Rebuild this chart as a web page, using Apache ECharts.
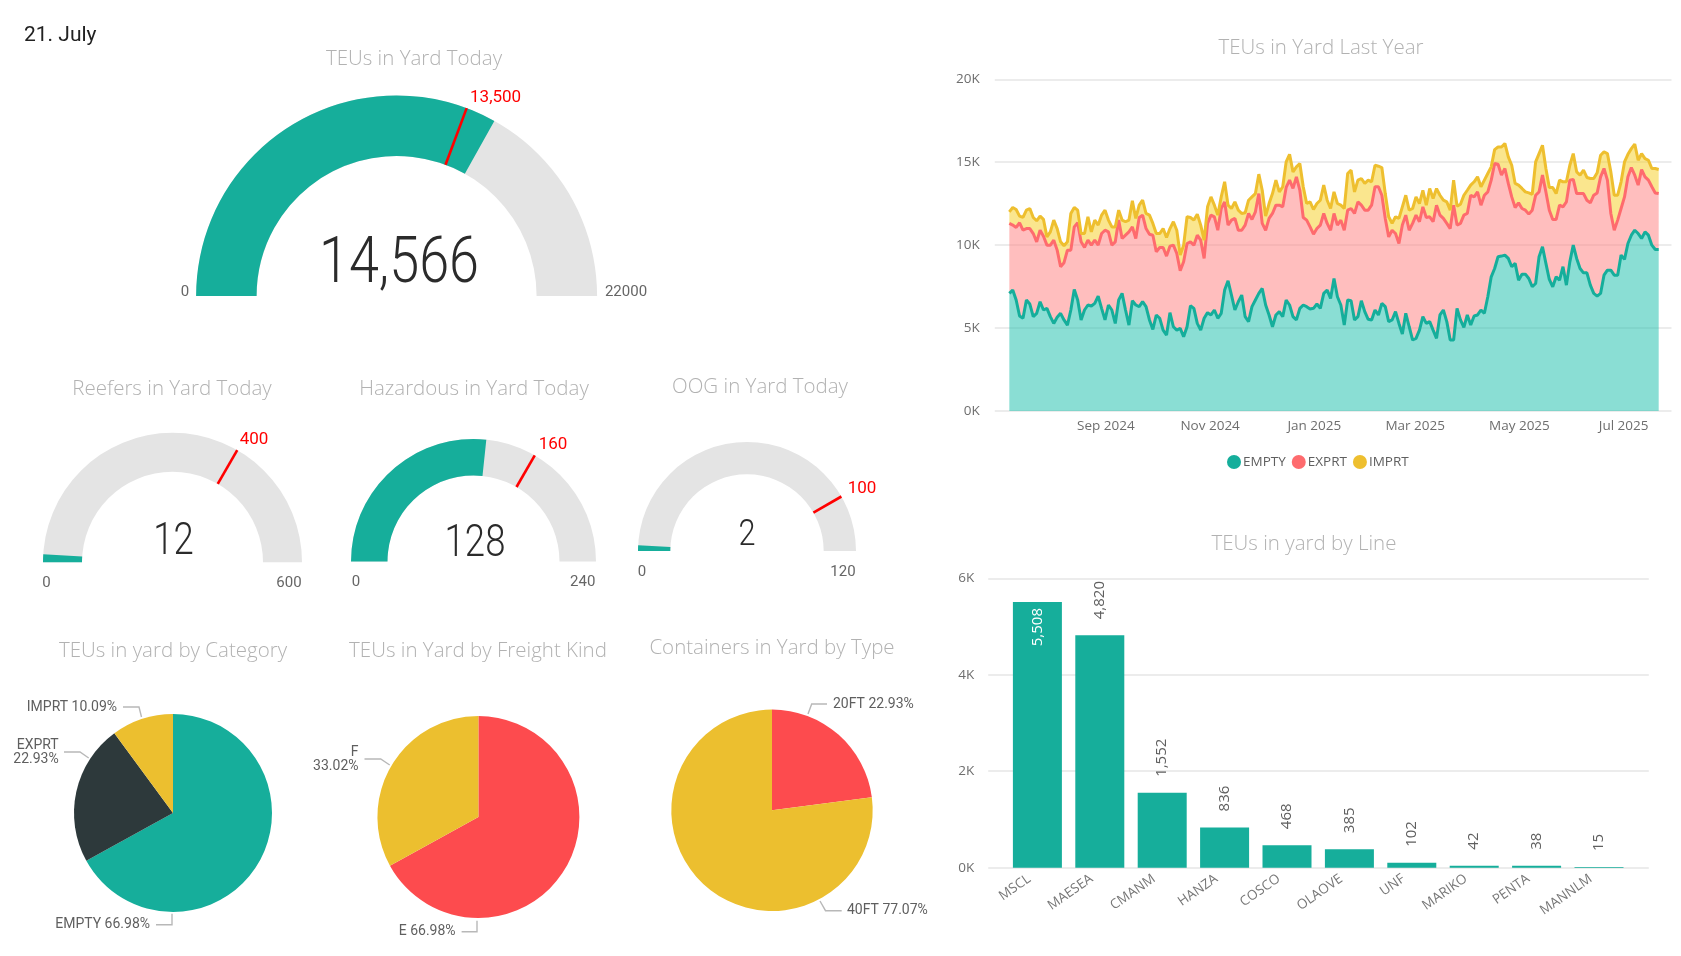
<!DOCTYPE html>
<html><head><meta charset="utf-8">
<style>html,body{margin:0;padding:0;background:#fff}#c{width:1681px;height:956px}</style>
<script src="https://cdn.jsdelivr.net/npm/echarts@6/dist/echarts.min.js"></script>
</head><body><div id="c"></div>
<script>
// ---------- data ----------
const dateHeading = '21. July';
const gaugeTitles = ['TEUs in Yard Today', 'Reefers in Yard Today', 'Hazardous in Yard Today', 'OOG in Yard Today'];
const gaugeValues = [14566, 12, 128, 2];
const gaugeTargets = [13500, 400, 160, 100];
const gaugeMaxima = [22000, 600, 240, 120];

const pieCategoryNames = ['EMPTY', 'EXPRT', 'IMPRT'];
const pieCategoryValues = [66.98, 22.93, 10.09];
const pieFreightNames = ['E', 'F'];
const pieFreightValues = [66.98, 33.02];
const pieTypeNames = ['20FT', '40FT'];
const pieTypeValues = [22.93, 77.07];

const lineNames = ['MSCL', 'MAESEA', 'CMANM', 'HANZA', 'COSCO', 'OLAOVE', 'UNF', 'MARIKO', 'PENTA', 'MANNLM'];
const lineTeus = [5508, 4820, 1552, 836, 468, 385, 102, 42, 38, 15];

const firstDay = '2024-07-06';   // one reading every second day to 21 July 2025
const stepDays = 2;
const monthTicks = ['2024-09-01', '2024-11-01', '2025-01-01', '2025-03-01', '2025-05-01', '2025-07-01'];
const emptyTeus = [
7090,7290,6690,5730,5590,6690,6450,5690,5890,6590,6090,6190,5690,5280,5650,5890,5490,5180,6090,7330,
6690,5490,6090,6390,6330,6490,6930,6190,5490,6390,6090,5280,6690,7090,6090,5180,6650,6390,6290,6590,
6290,5490,4920,5790,5590,4880,4580,5930,5080,
4880,4980,4480,5080,6350,6190,5280,4880,5590,5930,5790,6090,5590,5890,7290,7850,6990,6090,6590,6990,
5690,5390,6290,6690,7090,7390,6390,5790,5080,5790,5990,5690,6690,6390,5690,5490,6190,6390,6290,6150,
6190,6450,6190,7090,7290,6790,7990,6890,
6390,5180,6690,6650,5490,5690,6650,5990,5530,5490,6090,5790,6490,6290,5390,5490,5990,5280,4640,5890,
5080,4280,4380,4880,5690,5280,5390,4880,4380,5790,6090,5390,4280,4280,6190,5490,5040,5790,5180,5730,
5790,6090,5890,6890,8090,8590,9300,9340,
9400,9200,8700,8900,7890,8250,8250,7990,7490,7690,9300,9900,8900,7930,7490,8090,7890,8700,7590,8990,
10000,9200,8590,8330,8330,7590,7090,6930,7090,8190,8490,8490,8190,8190,9400,9140,10100,10600,10900,10700,
10400,10800,10600,10000,9740,9740];
const emptyPlusExport = [
11310,11210,11070,11350,10900,11000,11000,10700,10200,10900,10540,10000,10000,10300,9700,8700,8940,9700,9700,11100,
11350,10200,9860,10300,10000,10300,10000,10700,10900,10800,10000,10200,11510,10400,10600,10800,11100,10400,11670,11810,
11000,10660,10600,9600,9860,9860,9340,9940,10000,
9500,8460,9000,10100,10200,10000,10600,10300,9200,11310,11810,11710,10900,12210,12610,11210,11510,11610,10900,10900,
11210,11910,11550,12010,13110,11310,10900,11610,11910,12410,12410,12310,13480,13920,13420,14120,13310,11670,11510,11100,
10660,11000,11210,11910,11310,10900,11910,11210,
11510,10900,12110,12210,11910,12610,12410,12110,12110,12410,13520,13520,13010,11610,10500,10900,10700,10100,11210,11810,
10900,11310,11810,11410,12310,11670,11710,11410,12410,11810,11610,11310,11000,12410,11210,11310,11810,11910,13010,12910,
13210,12410,13010,13210,13920,14920,14880,14220,
14620,13720,12910,12270,12550,12210,12110,11870,12110,13010,13210,14220,13210,12110,11550,11550,12410,12310,12610,13920,
13960,13110,13110,13110,12710,12550,13010,13150,14120,14620,13920,11910,10900,11510,12210,12910,14120,14680,14220,13620,
14560,14120,13920,13520,13150,13110];
const emptyPlusExportPlusImport = [
12010,12270,12150,11750,11670,12110,12210,11670,11470,11750,11550,10500,10800,11510,11000,10200,9960,10200,11910,12270,
12110,10700,10700,11710,10800,11510,11210,11810,12110,11510,11100,11100,12110,11510,11410,11510,12670,11610,12410,12710,
11910,11810,11310,10700,10700,11000,10460,11000,11410,
10900,9400,10000,11710,11670,11510,11870,11210,10300,12310,12910,12410,11810,12910,13820,12410,12210,12610,12110,11910,
11950,12710,12910,13110,14280,13310,11750,12510,13110,13920,13210,13520,15020,15480,14420,14720,14920,13520,12510,12610,
12150,12510,12710,13620,12710,12210,13210,12510,
12410,12210,14320,14520,13210,13920,14020,13720,13920,13820,14820,14760,14680,13110,11710,11310,11710,11610,12310,13010,
12110,12210,12910,12510,13310,12410,13410,12810,13410,13010,12710,12610,12110,13920,12350,12470,13010,13310,13620,13820,
14120,13520,13920,14320,14720,15760,15920,15920,
16130,15320,14820,13720,13620,13420,13210,13150,13070,15020,15520,16020,14620,13480,13480,13110,13920,13820,13820,14820,
15520,14420,14220,14520,14080,14020,14020,14360,15420,15620,15520,14420,13010,13010,13820,15020,15480,15820,16090,15120,
15520,15220,15120,14620,14620,14560];

// ---------- style and layout ----------
const TEAL = '#16AE9B', GOLD = '#ECBF2F', RED = '#FD4B4E', DARK = '#2D393B', TRACK = '#E4E4E4';
const TITLE_COLOR = '#B2B2B2', AXIS_COLOR = '#6E6E6E', GRID_COLOR = '#E6E6E6';
const UI = '"Open Sans", "Noto Sans", sans-serif';
const DIN = 'Roboto, sans-serif';

const fmt = n => n.toLocaleString('en-US');
const titleAt = (text, x, y) => ({ text, left: x, top: y + 1, textAlign: 'center', textVerticalAlign: 'middle', padding: 0,
  textStyle: { fontFamily: UI, fontWeight: 300, fontSize: 20.5, color: TITLE_COLOR } });

const gaugeLayouts = [
  { cx: 396.6, cy: 296, R: 200.5, r: 140, valueAt: [399, 266], valueSize: 65, title: [414, 58], targetAt: [99, -198],
    minAt: [185, 292], maxAt: [626, 292] },
  { cx: 172.5, cy: 562.3, R: 129.5, r: 90.5, valueAt: [173.4, 543], valueSize: 44, title: [172, 388], targetAt: [81.5, -122.5],
    minAt: [46.5, 583.5], maxAt: [289, 583.5] },
  { cx: 473.5, cy: 561.5, R: 122.5, r: 86, valueAt: [475, 545], valueSize: 44, title: [474, 388], targetAt: [79.5, -117],
    minAt: [356, 582.5], maxAt: [582.7, 582.5] },
  { cx: 747, cy: 551, R: 109, r: 76.7, valueAt: [747, 536], valueSize: 37, title: [760, 386], targetAt: [115, -62.5],
    minAt: [642, 572], maxAt: [843, 572] }
];

const gaugeSeries = [];
const gaugeLabels = [];
gaugeLayouts.forEach((g, i) => {
  const base = {
    type: 'gauge', center: [g.cx, g.cy], radius: g.R, startAngle: 180, endAngle: 0,
    min: 0, max: gaugeMaxima[i], silent: true,
    axisTick: { show: false }, splitLine: { show: false }, axisLabel: { show: false }, anchor: { show: false }
  };
  gaugeSeries.push({ ...base,
    axisLine: { lineStyle: { width: g.R - g.r, color: [[1, TRACK]] } },
    progress: { show: true, width: g.R - g.r, itemStyle: { color: TEAL } },
    pointer: { show: false }, title: { show: false }, detail: { show: false },
    data: [{ value: gaugeValues[i] }]
  });
  gaugeSeries.push({ ...base, z: 5,
    axisLine: { show: false }, progress: { show: false },
    pointer: { show: true, icon: 'rect', length: g.R - g.r, width: 2.6, offsetCenter: [0, -g.r], itemStyle: { color: '#FF0000' } },
    detail: { show: false },
    title: { show: true, offsetCenter: g.targetAt, color: '#FF0000', fontFamily: DIN, fontSize: 17 },
    data: [{ value: gaugeTargets[i], name: fmt(gaugeTargets[i]) }]
  });
  [[0, g.minAt], [gaugeMaxima[i], g.maxAt]].forEach(([v, at]) => gaugeLabels.push({
    type: 'text', x: at[0], y: at[1], silent: true,
    style: { text: String(v), fill: '#666', fontFamily: DIN, fontSize: 15, align: 'center', verticalAlign: 'middle' }
  }));
  gaugeLabels.push({
    type: 'text', x: g.valueAt[0], y: g.valueAt[1], scaleX: 0.83, silent: true, z: 10,
    style: { text: fmt(gaugeValues[i]), fill: '#2B2B2B', fontFamily: DIN, fontWeight: 300, fontSize: g.valueSize,
      align: 'center', verticalAlign: 'middle' }
  });
});

const pieLayouts = [
  { center: [173, 813], R: 99, title: [173, 650], names: pieCategoryNames, values: pieCategoryValues, colors: [TEAL, DARK, GOLD],
    labels: [
      { x: 150, y: 924, align: 'right', line: [[156, 924.7], [172, 924.7], [172, 913.7]] },
      { x: 58.7, y: 752, align: 'right', line: [[64, 752], [80, 752], [88.7, 758]], twoLines: true },
      { x: 117, y: 707, align: 'right', line: [[123, 707], [139, 707], [141.5, 717]] }
    ] },
  { center: [478.4, 817], R: 101, title: [478, 650], names: pieFreightNames, values: pieFreightValues, colors: [RED, GOLD],
    labels: [
      { x: 455.6, y: 931, align: 'right', line: [[461.6, 931.7], [477, 931.7], [477, 920.7]] },
      { x: 358.5, y: 759, align: 'right', line: [[364.5, 759], [380.7, 759], [389.7, 765]], twoLines: true }
    ] },
  { center: [772, 810.3], R: 100.7, title: [772, 647], names: pieTypeNames, values: pieTypeValues, colors: [RED, GOLD],
    labels: [
      { x: 833, y: 704, align: 'left', line: [[827, 704], [811.7, 704], [808, 714]] },
      { x: 847, y: 910, align: 'left', line: [[841.7, 910.7], [825.5, 910.7], [820, 901]] }
    ] }
];

const pieSeries = pieLayouts.map(p => ({
  type: 'pie', center: p.center, radius: p.R, startAngle: 90, clockwise: true, silent: true, percentPrecision: 2,
  label: { show: true, position: 'outside', fontFamily: DIN, fontSize: 14, color: '#5F5F5F', lineHeight: 14,
    overflow: 'none', edgeDistance: 0 },
  labelLine: { show: true, lineStyle: { color: '#B8B8B8', width: 1.4 } },
  labelLayout: params => {
    const l = p.labels[params.dataIndex];
    return { x: l.x, y: l.y, align: l.align, verticalAlign: 'middle', labelLinePoints: l.line };
  },
  data: p.names.map((name, i) => ({
    name, value: p.values[i], itemStyle: { color: p.colors[i] },
    label: { formatter: p.labels[i].twoLines ? '{b}\n{d}%' : '{b} {d}%' }
  }))
}));

const dayMs = 86400000;
const seriesDates = emptyTeus.map((_, i) => new Date(firstDay + 'T12:00:00').getTime() + i * stepDays * dayMs);
const exportTeus = emptyPlusExport.map((v, i) => v - emptyTeus[i]);
const importTeus = emptyPlusExportPlusImport.map((v, i) => v - emptyPlusExport[i]);
const pair = arr => arr.map((v, i) => [seriesDates[i], v]);
const areaSeries = (name, arr, color, fill) => ({
  type: 'line', name, stack: 'yard', data: pair(arr), xAxisIndex: 0, yAxisIndex: 0, silent: true,
  showSymbol: false, symbol: 'none', smooth: false, lineStyle: { color, width: 3 }, itemStyle: { color },
  areaStyle: { color: fill, opacity: 1 }
});

const axisFont = { fontFamily: UI, fontSize: 13.5, color: AXIS_COLOR };
const kLabel = v => (v / 1000) + 'K';

const option = {
  animation: false,
  backgroundColor: '#fff',
  title: [
    { text: dateHeading, left: 24, top: 36, textVerticalAlign: 'middle', padding: 0,
      textStyle: { fontFamily: DIN, fontWeight: 400, fontSize: 21, color: '#222' } },
    ...gaugeLayouts.map((g, i) => titleAt(gaugeTitles[i], g.title[0], g.title[1])),
    titleAt('TEUs in yard by Category', ...pieLayouts[0].title),
    titleAt('TEUs in Yard by Freight Kind', ...pieLayouts[1].title),
    titleAt('Containers in Yard by Type', ...pieLayouts[2].title),
    titleAt('TEUs in Yard Last Year', 1321, 47),
    titleAt('TEUs in yard by Line', 1304, 543)
  ],
  legend: { left: 1227, top: 455, itemWidth: 14, itemHeight: 14, itemGap: 6, icon: 'circle', padding: 0, selectedMode: false,
    textStyle: { fontFamily: UI, fontSize: 13.5, color: '#5F5F5F', padding: [0, 0, 0, -3] }, data: ['EMPTY', 'EXPRT', 'IMPRT'] },
  grid: [
    { left: 994.8, right: 9.5, top: 79.3, height: 331.7 },
    { left: 1006.2, width: 624, top: 578.3, height: 289.4 },
    { left: 988.2, width: 660.6, top: 578.3, height: 289.4 }
  ],
  xAxis: [
    { gridIndex: 0, type: 'time', min: new Date('2024-06-28T00:00:00').getTime(), max: new Date('2025-07-29T00:00:00').getTime(),
      axisLine: { show: false }, axisTick: { show: false }, splitLine: { show: false },
      axisLabel: { ...axisFont, margin: 8, hideOverlap: false, showMinLabel: false, showMaxLabel: false,
        customValues: monthTicks.map(d => new Date(d + 'T00:00:00').getTime()), formatter: '{MMM} {yyyy}' } },
    { gridIndex: 1, type: 'category', data: lineNames, axisLine: { show: false }, axisTick: { show: false },
      axisLabel: { ...axisFont, rotate: 35, margin: 4, padding: [0, 10, 0, 0], interval: 0, color: '#777' } },
    { gridIndex: 2, type: 'value', min: 0, max: 1, show: false }
  ],
  yAxis: [
    { gridIndex: 0, type: 'value', min: 0, max: 20000, interval: 5000, axisLine: { show: false }, axisTick: { show: false },
      splitLine: { lineStyle: { color: GRID_COLOR, width: 1.5 } },
      axisLabel: { ...axisFont, margin: 15, formatter: kLabel } },
    { gridIndex: 1, type: 'value', min: 0, max: 6000, interval: 2000, show: false },
    { gridIndex: 2, type: 'value', min: 0, max: 6000, interval: 2000, axisLine: { show: false }, axisTick: { show: false },
      splitLine: { lineStyle: { color: GRID_COLOR, width: 1.5 } },
      axisLabel: { ...axisFont, margin: 14, formatter: kLabel } }
  ],
  graphic: { elements: gaugeLabels },
  series: [
    ...gaugeSeries,
    ...pieSeries,
    areaSeries('EMPTY', emptyTeus, '#15AE9B', 'rgba(21,190,170,0.5)'),
    areaSeries('EXPRT', exportTeus, '#FE6B6E', 'rgba(255,125,125,0.5)'),
    areaSeries('IMPRT', importTeus, '#EEBF2F', 'rgba(245,205,30,0.5)'),
    { type: 'bar', xAxisIndex: 1, yAxisIndex: 1, barWidth: 49, silent: true, itemStyle: { color: TEAL },
      label: { show: true, position: 'top', distance: 16, rotate: 90, align: 'left', verticalAlign: 'middle',
        fontFamily: UI, fontSize: 15, color: '#5F5F5F', formatter: p => fmt(p.value) },
      data: lineTeus.map((v, i) => i === 0
        ? { value: v, label: { position: 'insideTop', distance: 6, align: 'right', color: '#fff' } }
        : v) }
  ]
};
echarts.init(document.getElementById('c'), null, { renderer: 'canvas' }).setOption(option);
</script>
</body></html>
